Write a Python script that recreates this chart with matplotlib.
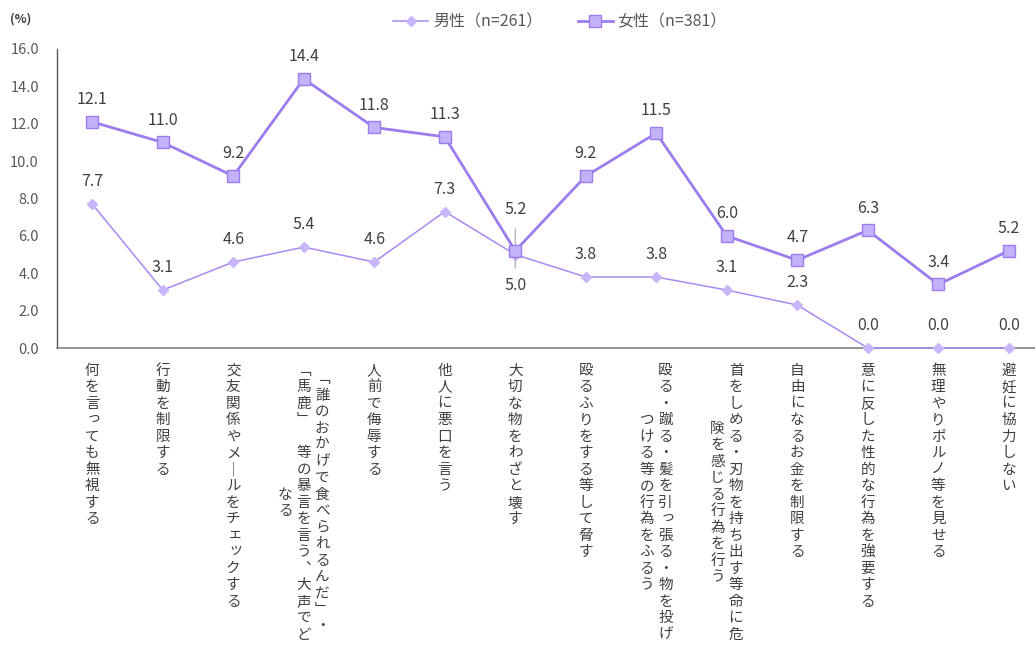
import matplotlib
matplotlib.use("Agg")
import matplotlib.pyplot as plt
from matplotlib.lines import Line2D

plt.rcParams['font.family'] = ['Noto Sans CJK JP', 'DejaVu Sans']

# categories, one list of columns each (columns read right to left)
categories = [
    ["何を言っても無視する"],
    ["行動を制限する"],
    ["交友関係やメールをチェックする"],
    ["「誰のおかげで食べられるんだ」・", "「馬鹿」　等の暴言を言う、大声でど", "なる"],
    ["人前で侮辱する"],
    ["他人に悪口を言う"],
    ["大切な物をわざと壊す"],
    ["殴るふりをする等して脅す"],
    ["殴る・蹴る・髪を引っ張る・物を投げ", "つける等の行為をふるう"],
    ["首をしめる・刃物を持ち出す等命に危", "険を感じる行為を行う"],
    ["自由になるお金を制限する"],
    ["意に反した性的な行為を強要する"],
    ["無理やりポルノ等を見せる"],
    ["避妊に協力しない"],
]
male = [7.7, 3.1, 4.6, 5.4, 4.6, 7.3, 5.0, 3.8, 3.8, 3.1, 2.3, 0.0, 0.0, 0.0]
female = [12.1, 11.0, 9.2, 14.4, 11.8, 11.3, 5.2, 9.2, 11.5, 6.0, 4.7, 6.3, 3.4, 5.2]
male_name = "男性（n=261）"
female_name = "女性（n=381）"
yticks = [0, 2, 4, 6, 8, 10, 12, 14, 16]

male_line = '#A68AF3'
male_face = '#C8B6FA'
female_line = '#9C7CEE'
female_face = '#C4B2F9'
txt = '#404040'

# glyphs swapped for their vertical-writing forms
vert = {'「': '\uFE41', '」': '\uFE42', '、': '\uFE11', 'ー': '｜'}
small_kana = 'っッェャュョぁぃぅぇぉ'

PX = 0.72  # points per pixel at dpi 100

fig = plt.figure(figsize=(10.35, 6.45), dpi=100)
ax = fig.add_axes([57 / 1035, 1 - 348 / 645, 987 / 1035, 299 / 645])

x = list(range(len(categories)))
ax.plot(x, male, color=male_line, lw=1.1, marker='D', ms=5,
        mfc=male_face, mec=male_face, zorder=3, clip_on=False)
ax.plot(x, female, color=female_line, lw=2.0, marker='s', ms=9,
        mfc=female_face, mec=female_line, mew=1.0, zorder=4, clip_on=False)

ax.set_xlim(-0.5, len(categories) - 0.5)
ax.set_ylim(0, 16)
ax.set_yticks(yticks)
ax.set_yticklabels([f"{v:.1f}" for v in yticks], fontsize=10.5, color='#595959')
ax.tick_params(axis='y', length=0, pad=13)
ax.tick_params(axis='x', length=0, labelbottom=False)
for s in ['top', 'right']:
    ax.spines[s].set_visible(False)
ax.spines['left'].set_color('#595959')
ax.spines['bottom'].set_color('#808080')
ax.spines['left'].set_linewidth(1.0)
ax.spines['bottom'].set_linewidth(1.2)

# value labels
for i, (m, f) in enumerate(zip(male, female)):
    if i == 6:
        ax.annotate(f"{f:.1f}", xy=(i, f), xytext=(0, 30), textcoords='offset points',
                    ha='center', va='center', fontsize=11.5, color=txt,
                    arrowprops=dict(arrowstyle='-', color='#A6A6A6', lw=0.8,
                                    shrinkA=6, shrinkB=0))
        ax.annotate(f"{m:.1f}", xy=(i, m), xytext=(0, -22), textcoords='offset points',
                    ha='center', va='center', fontsize=11.5, color=txt,
                    arrowprops=dict(arrowstyle='-', color='#A6A6A6', lw=0.8,
                                    shrinkA=4, shrinkB=0))
        continue
    ax.annotate(f"{f:.1f}", xy=(i, f), xytext=(0, 16), textcoords='offset points',
                ha='center', va='center', fontsize=11.5, color=txt)
    ax.annotate(f"{m:.1f}", xy=(i, m), xytext=(0, 16), textcoords='offset points',
                ha='center', va='center', fontsize=11.5, color=txt)

# vertical category labels, one character at a time
pitch = 16.5
col_gap = 18.5
top = 14.5
for i, cols in enumerate(categories):
    longest = max(len(c) for c in cols)
    n = len(cols)
    for j, col in enumerate(cols):
        dx = ((n - 1) / 2 - j) * col_gap
        start = top + (longest - len(col)) * pitch / 2
        for k, ch in enumerate(col):
            cx, cy = dx, start + (k + 0.5) * pitch
            if ch in small_kana:
                cx += 2
                cy -= 2
            ax.annotate(vert.get(ch, ch), xy=(i, 0),
                        xytext=(cx * PX, -cy * PX), textcoords='offset points',
                        ha='center', va='center', fontsize=10.5, color=txt,
                        annotation_clip=False)

fig.text(10 / 1035, 1 - 19 / 645, "(%)", fontsize=9, color=txt,
         ha='left', va='center', fontweight='bold')

handles = [
    Line2D([], [], color=male_line, lw=1.1, marker='D', ms=5,
           mfc=male_face, mec=male_face),
    Line2D([], [], color=female_line, lw=2.0, marker='s', ms=9,
           mfc=female_face, mec=female_line),
]
fig.legend(handles, [male_name, female_name], loc='center',
           bbox_to_anchor=(560 / 1035, 1 - 22 / 645), ncol=2, frameon=False,
           fontsize=11.5, handlelength=2.2, handletextpad=0.3, columnspacing=2.2,
           labelcolor='#595959')

fig.savefig("out.png", dpi=100)
